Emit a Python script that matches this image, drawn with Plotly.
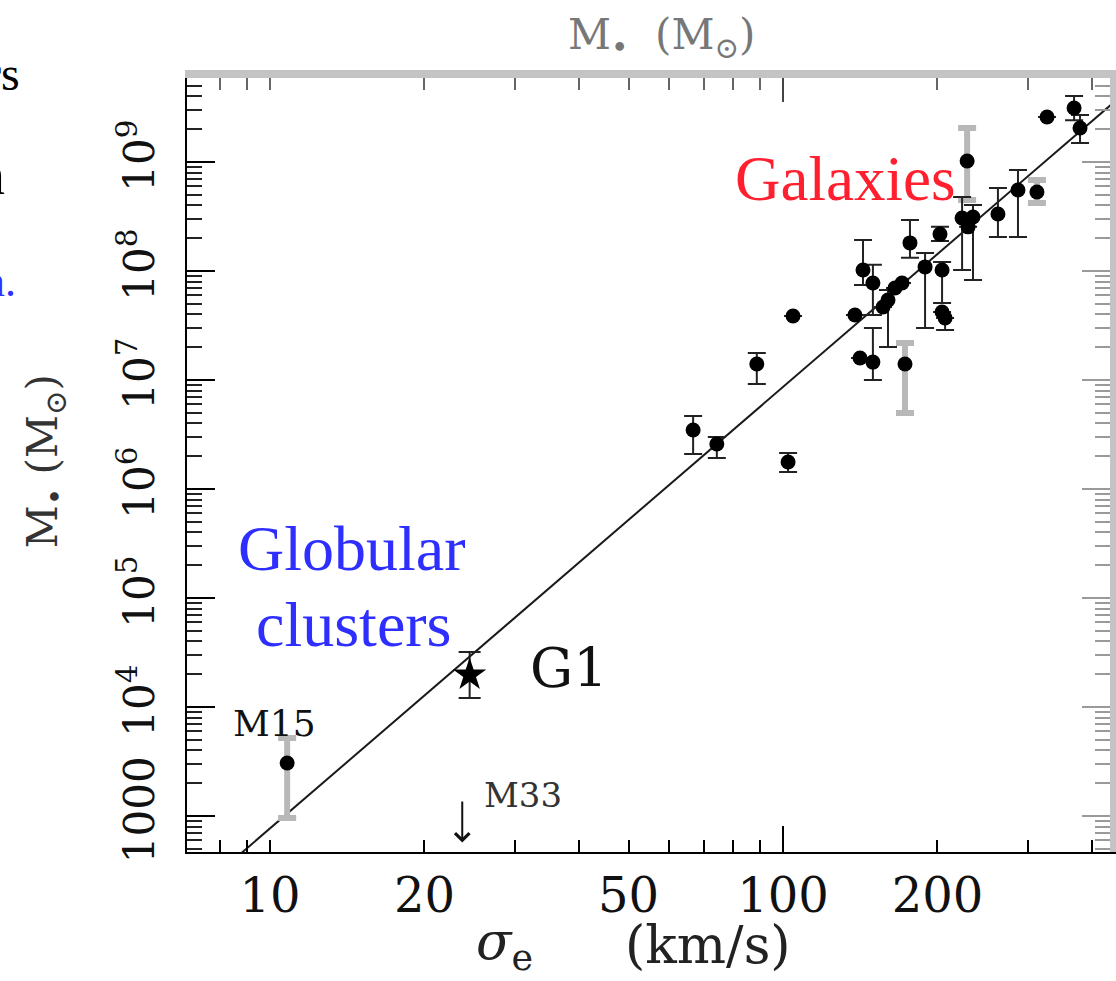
import numpy as np
import plotly.graph_objects as go

# ---------------- data ----------------
# galaxies with black error bars: sigma_e (km/s), M_bh, upper bound, lower bound
gal_sigma = [66.8, 74.3, 88.9, 102.3, 104.6, 138.1, 141.3, 149.7, 143.2, 149.7,
             165.3, 160.2, 156.7, 170.6, 176.8, 189.2, 202.3, 204.2, 204.2, 207.0,
             223.4, 234.6, 229.5, 262.4, 287.1, 327.1, 369.3, 379.3]
gal_mass = [3.48e6, 2.59e6, 1.40e7, 1.77e6, 3.87e7, 3.95e7, 1.59e7, 1.46e7, 1.02e8, 7.76e7,
            6.98e7, 5.42e7, 4.68e7, 7.76e7, 1.81e8, 1.09e8, 2.18e8, 1.02e8, 4.21e7, 3.71e7,
            3.06e8, 3.13e8, 2.54e8, 3.33e8, 5.53e8, 2.59e9, 3.13e9, 2.05e9]
gal_hi = [4.68e6, 3.00e6, 1.77e7, 2.14e6, 3.87e7, 3.95e7, 1.59e7, 3.0e7, 1.92e8, 1.14e8,
          6.98e7, 6.7e7, 4.68e7, 7.76e7, 2.94e8, 1.46e8, 2.54e8, 1.21e8, 4.21e7, 3.71e7,
          4.78e8, 4.03e8, 2.54e8, 5.77e8, 8.45e8, 2.59e9, 4.04e9, 2.70e9]
gal_lo = [2.09e6, 1.92e6, 9.19e6, 1.43e6, 3.87e7, 3.95e7, 1.59e7, 1.0e7, 7.44e7, 3.95e7,
          6.98e7, 2.01e7, 4.68e7, 7.76e7, 1.32e8, 3.0e7, 1.88e8, 5.09e7, 4.21e7, 2.88e7,
          1.02e8, 8.26e7, 2.54e8, 2.05e8, 2.05e8, 2.59e9, 2.42e9, 1.49e9]

# objects with grey error bars (incl. globular cluster M15)
grey_sigma = [172.9, 228.5, 312.6, 10.8]
grey_mass = [1.40e7, 1.02e9, 5.31e8, 3060]
grey_hi = [2.18e7, 2.05e9, 6.84e8, 5200]
grey_lo = [4.98e6, 4.48e8, 4.21e8, 960]

# G1 (star)
g1_sigma = [24.5]
g1_mass = [1.97e4]
g1_hi = [3.2e4]
g1_lo = [1.21e4]

# M33 upper limit
m33_sigma = 23.7
m33_limit = 1400.0

# M-sigma fit: M = norm * (sigma/200)^slope
fit_norm = 1.43e8
fit_slope = 4.05
fit_sigma_span = [8.0, 450.0]

# axes ticks
x_major = [10, 20, 50, 100, 200]
x_labels = ["10", "20", "50", "100", "200"]
x_minor = [8, 9, 30, 40, 60, 70, 80, 90, 300, 400]
y_major = [1e3, 1e4, 1e5, 1e6, 1e7, 1e8, 1e9]
y_labels = ["1000", "10<sup>4</sup>", "10<sup>5</sup>", "10<sup>6</sup>",
            "10<sup>7</sup>", "10<sup>8</sup>", "10<sup>9</sup>"]
y_minor = [k * 10.0 ** n for n in range(2, 10) for k in range(2, 10)
           if 470 < k * 10.0 ** n < 5.8e9]

XR = [0.8382, 2.6374]
YR = [2.6697, 9.7706]

FIG_FONT = "DejaVu Serif"
SLIDE_FONT = "Liberation Serif"


def errs(m, hi, lo):
    m = np.array(m); hi = np.array(hi); lo = np.array(lo)
    return hi - m, m - lo


fig = go.Figure()

# regression line
fs = np.geomspace(fit_sigma_span[0], fit_sigma_span[1], 50)
fig.add_trace(go.Scatter(x=fs, y=fit_norm * (fs / 200.0) ** fit_slope, mode="lines",
                         line=dict(color="#1a1a1a", width=2), hoverinfo="skip"))

# grey error bar points
ep, em = errs(grey_mass, grey_hi, grey_lo)
fig.add_trace(go.Scatter(x=grey_sigma, y=grey_mass, mode="markers",
                         marker=dict(color="black", size=15, symbol="circle"),
                         error_y=dict(type="data", symmetric=False, array=ep, arrayminus=em,
                                      color="#b8b8b8", thickness=6, width=9)))

# black error bar galaxies
ep, em = errs(gal_mass, gal_hi, gal_lo)
fig.add_trace(go.Scatter(x=gal_sigma, y=gal_mass, mode="markers",
                         marker=dict(color="black", size=15, symbol="circle"),
                         error_y=dict(type="data", symmetric=False, array=ep, arrayminus=em,
                                      color="#222222", thickness=2, width=9)))

# G1 star
ep, em = errs(g1_mass, g1_hi, g1_lo)
fig.add_trace(go.Scatter(x=g1_sigma, y=g1_mass, mode="markers",
                         marker=dict(color="black", size=25, symbol="star"),
                         error_y=dict(type="data", symmetric=False, array=ep, arrayminus=em,
                                      color="#222222", thickness=2, width=11)))

# invisible helper traces so that the overlay axes are drawn
fig.add_trace(go.Scatter(x=gal_sigma[:1], y=gal_mass[:1], xaxis="x2", yaxis="y2",
                         mode="markers", marker=dict(opacity=0), hoverinfo="skip"))
fig.add_trace(go.Scatter(x=gal_sigma[:1], y=gal_mass[:1], xaxis="x3", yaxis="y",
                         mode="markers", marker=dict(opacity=0), hoverinfo="skip"))

common = dict(showgrid=False, zeroline=False)

fig.update_layout(
    width=1116, height=981, autosize=False,
    margin=dict(l=187, r=6, t=78, b=129, pad=0),
    paper_bgcolor="white", plot_bgcolor="white", showlegend=False,
    xaxis=dict(type="log", range=XR, ticks="inside", tickmode="array",
               tickvals=x_major, ticktext=x_labels, ticklen=12, tickwidth=2,
               tickcolor="black", showline=True, linecolor="black", linewidth=2,
               tickfont=dict(family=FIG_FONT, size=48, color="#111"),
               ticklabelstandoff=0,
               minor=dict(tickmode="array", tickvals=x_minor, ticks="inside", ticklen=12,
                          tickwidth=2, tickcolor="black", showgrid=False),
               **common),
    xaxis2=dict(type="log", range=XR, overlaying="x", side="top", anchor="y2",
                tickmode="array", tickvals=[100], ticks="inside", ticklen=24, tickwidth=2,
                tickcolor="#444", showticklabels=False, showline=True,
                linecolor="#c4c4c4", linewidth=8,
                minor=dict(tickmode="array", tickvals=x_minor + [10, 20, 50, 200],
                           ticks="inside", ticklen=12, tickwidth=2, tickcolor="#666",
                           showgrid=False),
                **common),
    xaxis3=dict(type="log", range=XR, overlaying="x", side="bottom", anchor="y",
                tickmode="array", tickvals=[100], ticks="inside", ticklen=26, tickwidth=2,
                tickcolor="black", showticklabels=False, showline=False, **common),
    yaxis=dict(type="log", range=YR, ticks="inside", tickmode="array",
               tickvals=y_major, ticktext=y_labels, ticklen=28, tickwidth=2,
               tickcolor="black", tickangle=-90, showline=True, linecolor="black",
               linewidth=2, tickfont=dict(family=FIG_FONT, size=42, color="#111"),
               ticklabelstandoff=14,
               minor=dict(tickmode="array", tickvals=y_minor, ticks="inside", ticklen=15,
                          tickwidth=2, tickcolor="#222", showgrid=False),
               **common),
    yaxis2=dict(type="log", range=YR, overlaying="y", side="right", anchor="x2",
                tickmode="array", tickvals=y_major, ticks="inside", ticklen=28, tickwidth=2,
                tickcolor="#9a9a9a", showticklabels=False, showline=True,
                linecolor="#c4c4c4", linewidth=6,
                minor=dict(tickmode="array", tickvals=y_minor, ticks="inside", ticklen=15,
                           tickwidth=2, tickcolor="#9a9a9a", showgrid=False),
                **common),
)


def label(text, x, y, size, color, family=FIG_FONT, xanchor="center", angle=0):
    return dict(text=text, x=x, y=y, xref="paper", yref="paper", showarrow=False,
                xanchor=xanchor, yanchor="middle", textangle=angle,
                font=dict(family=family, size=size, color=color))


ann = []
# axis titles
ann.append(label("M<sub>•</sub> (M<sub>⊙</sub>)", -0.1538, 0.505, 42, "#333", angle=-90))
ann.append(label("<i>σ</i><sub>e</sub>", 0.3445, -0.1198, 52, "#222"))
ann.append(label("(km/s)", 0.5645, -0.1198, 52, "#222"))
ann.append(label("M<sub>•</sub>  (M<sub>⊙</sub>)", 0.5146, 1.0528, 42, "#777"))
# point labels
ann.append(label("M15", 0.0953, 0.1662, 36, "#111"))
ann.append(label("M33", 0.364, 0.0735, 34, "#333"))
ann.append(label("G1", 0.4139, 0.2371, 54, "#111"))
# M33 upper-limit arrow
ann.append(dict(text="", x=np.log10(m33_sigma), y=np.log10(m33_limit) - 0.39,
                ax=np.log10(m33_sigma), ay=np.log10(m33_limit), xref="x", yref="y",
                axref="x", ayref="y", showarrow=True, arrowhead=4, arrowsize=1.4,
                arrowwidth=2, arrowcolor="#111"))
# slide labels
ann.append(label("Galaxies", 0.7129, 0.8698, 63, "#ff1f2f", SLIDE_FONT))
ann.append(label("Globular", 0.1788, 0.3918, 64, "#2e2eff", SLIDE_FONT))
ann.append(label("clusters", 0.1809, 0.2938, 64, "#2e2eff", SLIDE_FONT))
# cut-off slide text at the left edge
ann.append(label("rs", -0.1788, 1.0064, 48, "black", SLIDE_FONT, "right"))
ann.append(label("n", -0.195, 0.875, 56, "black", SLIDE_FONT, "right"))
ann.append(label("n.", -0.1831, 0.737, 44, "#3030ff", SLIDE_FONT, "right"))
ann.append(label("o", -0.1993, 0.2255, 44, "black", SLIDE_FONT, "right"))
fig.update_layout(annotations=ann)

fig.write_html("out.html")
